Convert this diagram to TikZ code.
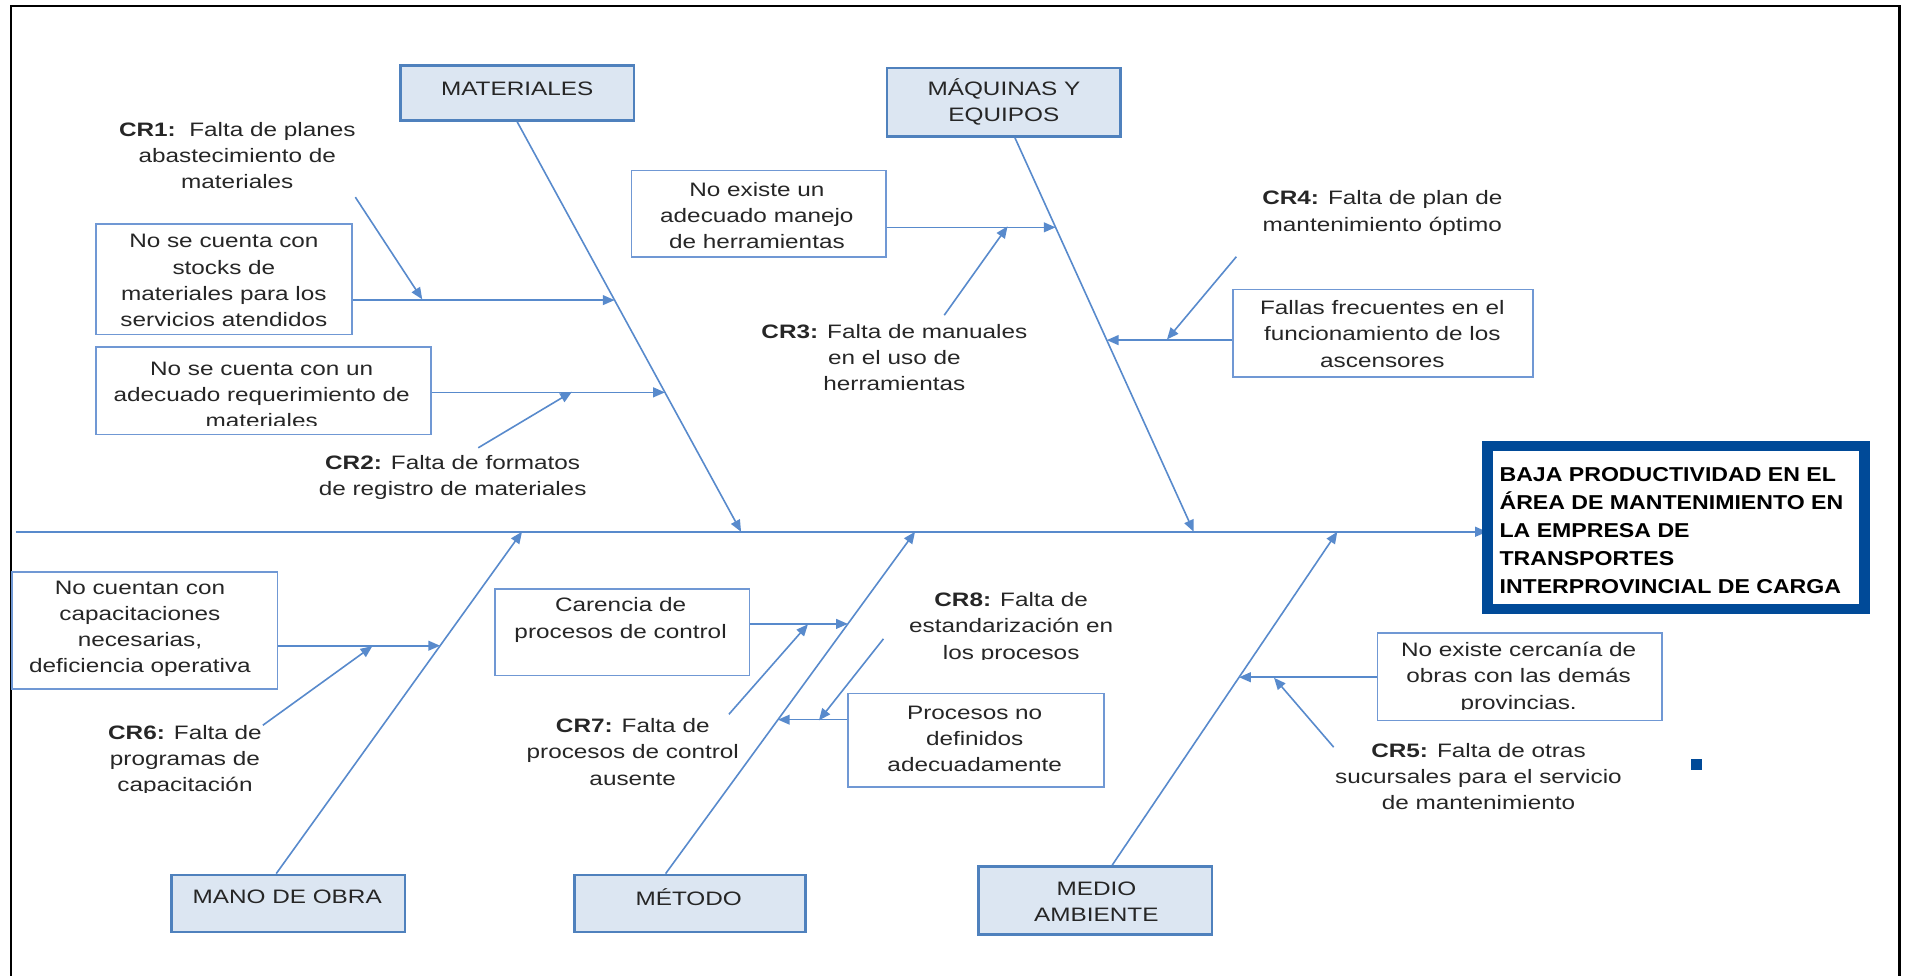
\documentclass[tikz,border=0pt]{standalone}
\usepackage{fontspec}
\setmainfont{Liberation Sans}[FakeStretch=1.25]
\newfontfamily\efffont{Liberation Sans}[FakeStretch=1.15]
\usetikzlibrary{arrows.meta,calc,fit}

\definecolor{bonecol}{RGB}{88,138,204}
\definecolor{catline}{RGB}{79,129,189}
\definecolor{catfill}{RGB}{220,230,242}
\definecolor{boxline}{RGB}{112,152,212}
\definecolor{effcol}{RGB}{0,74,152}
\definecolor{txtcol}{RGB}{38,38,38}

\begin{document}
\begin{tikzpicture}[x=0.02cm,y=-0.02cm,
  bone/.style={draw=bonecol,line width=0.75pt,-{Triangle[length=5.5pt,width=4.6pt]}},
  catbox/.style={draw=catline,fill=catfill,line width=1.2pt,inner sep=0pt},
  causebox/.style={draw=boxline,fill=white,line width=0.8pt,inner sep=0pt},
  effbox/.style={draw=effcol,line width=5pt,inner sep=0pt},
  txt/.style={font=\fontsize{9.1}{12.2}\selectfont,text=txtcol,align=center,inner sep=0pt},
  efftxt/.style={font=\efffont\bfseries\fontsize{9.4}{13}\selectfont,text=black,align=left,inner sep=0pt}]

\useasboundingbox (0,0) rectangle (1568,802);

% page frame (open at the bottom)
\draw[line width=1.3pt] (9,810) -- (9,5) -- (1561,5) -- (1561,810);

% effect box and spine
\coordinate (spineL) at (13,437);
\draw[bone] (spineL) -- (spineL -| 1222,0);
\node[effbox,fit={(1222.5,366.5)(1532.5,500.5)}] (eff) {};
\node[efftxt,anchor=west] (efft) at (1232,436)
  {BAJA PRODUCTIVIDAD EN EL\\ÁREA DE MANTENIMIENTO EN\\LA EMPRESA DE\\TRANSPORTES\\INTERPROVINCIAL DE CARGA};
\node[fill=effcol,minimum size=0.18cm,inner sep=0pt] (dot) at (1394,628) {};

% category boxes
\node[catbox,fit={(329,54)(521,99)}] (mat) {};
\node[txt] (matt) at (425,73) {MATERIALES};
\node[catbox,fit={(729,56)(921,112)}] (maq) {};
\node[txt] (maqt) at (825,84) {MÁQUINAS Y\\EQUIPOS};
\node[catbox,fit={(141,719)(333,766)}] (mano) {};
\node[txt] (manot) at (236,737) {MANO DE OBRA};
\node[catbox,fit={(472,719)(662,766)}] (met) {};
\node[txt] (mett) at (566,737) {MÉTODO};
\node[catbox,fit={(804,712)(996,768)}] (med) {};
\node[txt] (medt) at (901,741) {MEDIO\\AMBIENTE};

% bones
\coordinate (matS) at (mat.south);
\coordinate (maqS) at ($(maq.south)+(9,0)$);
\coordinate (manoS) at ($(mano.north)+(-10,0)$);
\coordinate (metS) at ($(met.north)+(-20,0)$);
\coordinate (medS) at ($(med.north)+(14,0)$);
\coordinate (matJ) at (609,437);
\coordinate (maqJ) at (981,437);
\coordinate (manoJ) at (429,437);
\coordinate (metJ) at (752,437);
\coordinate (medJ) at (1099,437);
\draw[bone] (matS) -- (matJ);
\draw[bone] (maqS) -- (maqJ);
\draw[bone] (manoS) -- (manoJ);
\draw[bone] (metS) -- (metJ);
\draw[bone] (medS) -- (medJ);

% points where the causes meet the bones
\coordinate (m1) at ($(matS)!0.435!(matJ)$);
\coordinate (m2) at ($(matS)!0.66!(matJ)$);
\coordinate (q1) at ($(maqS)!0.2277!(maqJ)$);
\coordinate (q2) at ($(maqS)!0.5138!(maqJ)$);
\coordinate (o1) at ($(manoS)!0.6667!(manoJ)$);
\coordinate (t1) at ($(metS)!0.7305!(metJ)$);
\coordinate (t2) at ($(metS)!0.4504!(metJ)$);
\coordinate (a1) at ($(medS)!0.5636!(medJ)$);

% cause boxes
\node[causebox,fit={(79,184)(289,275)}] (b1) {};
\node[txt] (b1t) at (184,230.5) {No se cuenta con\\stocks de\\materiales para los\\servicios atendidos};
\node[causebox,fit={(79,285)(354,357)}] (b2) {};
\begin{scope}
  \clip (79,285) rectangle (354,350);
  \node[txt] (b2t) at (215,324.5) {No se cuenta con un\\adecuado requerimiento de\\materiales};
\end{scope}
\node[causebox,fit={(519,140)(728,211)}] (b3) {};
\node[txt] (b3t) at (622,177) {No existe un\\adecuado manejo\\de herramientas};
\node[causebox,fit={(1013,238)(1260,310)}] (b4) {};
\node[txt] (b4t) at (1136,274.5) {Fallas frecuentes en el\\funcionamiento de los\\ascensores};
\node[causebox,fit={(10,470)(228,566)}] (b5) {};
\node[txt] (b5t) at (115,517) {No cuentan con\\capacitaciones\\necesarias,\\deficiencia operativa};
\node[causebox,fit={(407,484)(616,555)}] (b6) {};
\node[txt] (b6t) at (510,509.5) {Carencia de\\procesos de control};
\node[causebox,fit={(697,570)(907,647)}] (b7) {};
\node[txt] (b7t) at (801,607) {Procesos no\\definidos\\adecuadamente};
\node[causebox,fit={(1132,520)(1366,592)}] (b8) {};
\begin{scope}
  \clip (1132,520) rectangle (1366,583);
  \node[txt] (b8t) at (1248,557) {No existe cercanía de\\obras con las demás\\provincias.};
\end{scope}

% cause arrows
\draw[bone] (b1.east |- m1) -- (m1);
\draw[bone] (b2.east |- m2) -- (m2);
\draw[bone] (b3.east |- q1) -- (q1);
\draw[bone] (b4.west |- q2) -- (q2);
\draw[bone] (b5.east |- o1) -- (o1);
\draw[bone] (b6.east |- t1) -- (t1);
\draw[bone] (b7.west |- t2) -- (t2);
\draw[bone] (b8.west |- a1) -- (a1);

% root-cause labels
\node[txt] (cr1) at (195,127.5) {\textbf{CR1:}\ \ Falta de planes\\abastecimiento de\\materiales};
\node[txt] (cr2) at (372,392.5) {\textbf{CR2:} Falta de formatos\\de registro de materiales};
\node[txt] (cr3) at (735,294) {\textbf{CR3:} Falta de manuales\\en el uso de\\herramientas};
\node[txt] (cr4) at (1136,175) {\textbf{CR4:} Falta de plan de\\mantenimiento óptimo};
\node[txt] (cr5) at (1215,638) {\textbf{CR5:} Falta de otras\\sucursales para el servicio\\de mantenimiento};
\begin{scope}
  \clip (60,560) rectangle (250,651);
  \node[txt] (cr6) at (152,625) {\textbf{CR6:} Falta de\\programas de\\capacitación};
\end{scope}
\node[txt] (cr7) at (520,618) {\textbf{CR7:} Falta de\\procesos de control\\ausente};
\begin{scope}
  \clip (730,470) rectangle (940,542);
  \node[txt] (cr8) at (831,516) {\textbf{CR8:} Falta de\\estandarización en\\los procesos};
\end{scope}

% root-cause arrows
\coordinate (c1s) at (292,162);  \coordinate (c1e) at (347,246);
\coordinate (c2s) at (393,368);  \coordinate (c2e) at (470,322);
\coordinate (c3s) at (776,259);  \coordinate (c3e) at (828,186);
\coordinate (c4s) at (1016,211); \coordinate (c4e) at (959,279);
\coordinate (c5s) at (1096,614); \coordinate (c5e) at (1047,557);
\coordinate (c6s) at (216,596);  \coordinate (c6e) at (306,531);
\coordinate (c7s) at (599,587);  \coordinate (c7e) at (664,513);
\coordinate (c8s) at (726,525);  \coordinate (c8e) at (673,592);
\foreach \i in {1,...,8} {\draw[bone] (c\i s) -- (c\i e);}
\end{tikzpicture}
\end{document}
